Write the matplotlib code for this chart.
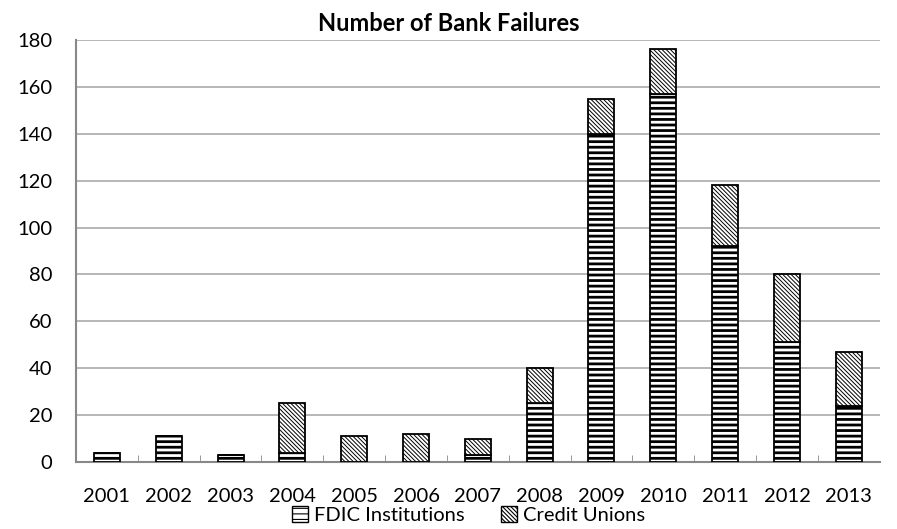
import matplotlib
matplotlib.use("Agg")
import matplotlib.pyplot as plt
from matplotlib.patches import Patch

years = ["2001", "2002", "2003", "2004", "2005", "2006", "2007",
         "2008", "2009", "2010", "2011", "2012", "2013"]
fdic = [4, 11, 3, 4, 0, 0, 3, 25, 140, 157, 92, 51, 24]
credit_unions = [0, 0, 0, 21, 11, 12, 7, 15, 15, 19, 26, 29, 23]

plt.rcParams['font.family'] = ['Lato', 'DejaVu Sans']
plt.rcParams['hatch.linewidth'] = 0.8

BS = chr(92)
H_FDIC = '---'
H_CU = BS * 8


def set_hlw(patches, lw):
    for p in patches:
        if hasattr(p, 'set_hatch_linewidth'):
            p.set_hatch_linewidth(lw)


fig = plt.figure(figsize=(8.97, 5.29), dpi=100)
ax = fig.add_axes([0.0847, 0.1267, 0.896, 0.7977])

x = list(range(len(years)))
w = 0.42
b1 = ax.bar(x, fdic, width=w, color='white', edgecolor='black', hatch=H_FDIC,
            linewidth=1.3, zorder=3, label='FDIC Institutions')
b2 = ax.bar(x, credit_unions, width=w, bottom=fdic, color='white', edgecolor='black',
            hatch=H_CU, linewidth=1.3, zorder=3, label='Credit Unions')
set_hlw(b1, 2.0)
set_hlw(b2, 0.7)

ax.set_ylim(0, 180)
ax.set_yticks(range(0, 181, 20))
ax.set_xlim(-0.5, len(years) - 0.5)
ax.set_xticks(x)
ax.set_xticklabels(years)
ax.set_xticks([i + 0.5 for i in range(len(years) - 1)], minor=True)
ax.tick_params(axis='x', which='major', length=0, labelsize=14.5, pad=19)
ax.tick_params(axis='x', which='minor', length=5, direction='in', color='#888888')
ax.tick_params(axis='y', length=0, labelsize=14.5, pad=17)
ax.yaxis.grid(True, color='#aaaaaa', linewidth=1.2, zorder=0)
ax.set_axisbelow(True)
for s in ['top', 'right']:
    ax.spines[s].set_visible(False)
ax.spines['left'].set_color('#888888')
ax.spines['bottom'].set_color('#888888')
ax.spines['left'].set_linewidth(1.5)
ax.spines['bottom'].set_linewidth(1.5)

fig.text(0.5, 0.955, 'Number of Bank Failures', fontsize=17, fontweight='bold',
         ha='center', va='center')

h1 = Patch(facecolor='white', edgecolor='black', hatch=H_FDIC)
h2 = Patch(facecolor='white', edgecolor='black', hatch=H_CU)
set_hlw([h1], 1.5)
set_hlw([h2], 0.7)
fig.legend([h1, h2], ['FDIC Institutions', 'Credit Unions'], loc='lower center',
           bbox_to_anchor=(0.522, -0.025), ncol=2, frameon=False, fontsize=14.5,
           handlelength=0.8, handleheight=0.8, handletextpad=0.3, columnspacing=1.8)

fig.savefig('out.png', dpi=100)
